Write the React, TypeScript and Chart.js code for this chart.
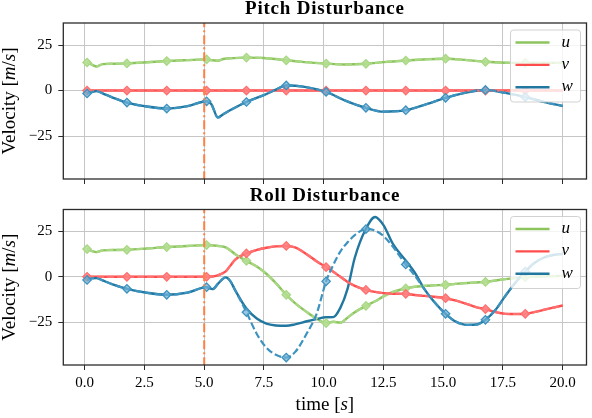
import React, { useEffect, useRef } from "react";
import { Chart, registerables } from "chart.js";

Chart.register(...registerables);

// ---------------- data ----------------
const markerTimes = [0.1, 1.767, 3.433, 5.1, 6.767, 8.433, 10.1, 11.767, 13.433, 15.1, 16.767, 18.433];
const disturbanceTime = 5.0;

const xTicks = [0, 2.5, 5, 7.5, 10, 12.5, 15, 17.5, 20];
const xTickLabels = ["0.0", "2.5", "5.0", "7.5", "10.0", "12.5", "15.0", "17.5", "20.0"];
const yTicks = [-25, 0, 25];
const yTickLabels = ["\u221225", "0", "25"];
const xMin = -0.895;
const xMax = 20.995;
const yMin = -48.6;
const yMax = 37.1;

const seriesNames = ["u", "v", "w"];

// Pitch disturbance
const pitchTime = [0.1, 0.3, 0.5, 0.75, 1.2, 1.767, 2.6, 3.433, 4.3, 5.1, 5.3, 5.57, 5.8, 6.2, 6.767, 7.5, 8.0, 8.433, 9.2, 10.1, 10.9, 11.767, 12.5, 13.433, 14.3, 15.1, 16.0, 16.767, 17.6, 18.433, 19.2, 20.0];
const pitchU = [15.4, 14.2, 13.2, 14.5, 14.7, 14.9, 15.5, 16.2, 16.7, 17.1, 16.7, 16.4, 17.3, 17.8, 18.1, 17.9, 17.3, 16.6, 15.6, 14.8, 14.3, 14.7, 15.6, 16.5, 17.2, 17.5, 16.7, 15.8, 15.3, 15.2, 15.2, 15.2];
const pitchV = [0, 0, 0, 0, 0, 0, 0, 0, 0, 0, 0, 0, 0, 0, 0, 0, 0, 0, 0, 0, 0, 0, 0, 0, 0, 0, 0, 0, 0, 0, 0, 0];
const pitchW = [-1.6, -0.8, -0.3, -1.5, -4.0, -6.6, -8.8, -9.9, -8.6, -5.9, -7.5, -14.8, -13.0, -10.0, -6.3, -2.5, 0.5, 2.8, 2.0, -0.8, -5.5, -9.5, -11.6, -10.8, -7.5, -4.0, -1.0, 0.3, -1.3, -3.6, -6.2, -8.5];
const pitchURef = [15.4, 14.2, 13.2, 14.5, 14.7, 14.9, 15.5, 16.2, 16.7, 17.1, 16.7, 16.4, 17.3, 17.8, 18.1, 17.9, 17.3, 16.6, 15.6, 14.8, 14.3, 14.7, 15.6, 16.5, 17.2, 17.5, 16.7, 15.8, 15.3, 15.2, 15.2, 15.2];
const pitchVRef = [0, 0, 0, 0, 0, 0, 0, 0, 0, 0, 0, 0, 0, 0, 0, 0, 0, 0, 0, 0, 0, 0, 0, 0, 0, 0, 0, 0, 0, 0, 0, 0];
const pitchWRef = [-1.6, -0.8, -0.3, -1.5, -4.0, -6.6, -8.8, -9.9, -8.6, -5.9, -7.5, -14.8, -13.0, -10.0, -6.3, -2.5, 0.5, 2.8, 2.0, -0.8, -5.5, -9.5, -11.6, -10.8, -7.5, -4.0, -1.0, 0.3, -1.3, -3.6, -6.2, -8.5];

// Roll disturbance
const rollTime = [0.1, 0.3, 0.5, 0.75, 1.2, 1.767, 2.6, 3.433, 4.3, 5.1, 5.35, 5.6, 5.9, 6.1, 6.3, 6.767, 7.2, 7.6, 8.0, 8.433, 8.8, 9.3, 9.7, 10.1, 10.4, 10.7, 11.0, 11.3, 11.767, 12.15, 12.5, 12.9, 13.433, 13.8, 14.2, 14.6, 15.1, 15.5, 16.0, 16.4, 16.767, 17.2, 17.6, 18.0, 18.433, 18.8, 19.2, 19.6, 20.0];
const rollU = [15.3, 14.2, 13.6, 14.6, 14.8, 14.9, 15.6, 16.4, 17.0, 17.5, 17.3, 17.0, 16.2, 14.5, 12.5, 8.8, 5.7, 1.7, -3.5, -9.9, -14.5, -19.5, -23.0, -25.5, -24.8, -25.3, -22.5, -19.5, -16.0, -13.5, -10.8, -8.3, -6.4, -5.5, -5.0, -4.7, -4.4, -3.9, -3.4, -3.1, -2.8, -2.0, -1.3, -0.7, -0.2, 0.1, 0.3, 0.4, 0.5];
const rollV = [0, 0, 0, 0, 0, 0, 0, 0, 0, 0, 0.2, 1.0, 3.0, 6.3, 9.5, 12.9, 14.8, 16.0, 16.8, 17.0, 16.2, 12.3, 8.6, 5.3, 2.8, 0.0, -2.8, -5.0, -7.2, -8.3, -9.0, -9.3, -9.4, -10.0, -10.5, -11.0, -11.8, -13.0, -15.0, -16.8, -17.8, -19.5, -20.4, -20.5, -20.4, -19.5, -18.2, -17.0, -15.8];
const rollW = [-1.7, -0.8, -0.7, -2.0, -4.3, -6.6, -8.8, -9.9, -8.7, -5.7, -6.8, -3.5, -0.3, -2.5, -7.5, -17.5, -23.0, -25.8, -26.8, -27.0, -26.2, -24.5, -23.3, -22.3, -22.2, -17.0, -6.5, 10.5, 26.5, 33.0, 28.5, 18.0, 9.0, 2.5, -6.5, -13.5, -20.4, -24.5, -26.5, -26.3, -23.7, -18.0, -10.5, -3.5, 2.9, 7.5, 10.5, 12.0, 12.7];
const rollURef = [15.3, 14.2, 13.6, 14.6, 14.8, 14.9, 15.6, 16.4, 17.0, 17.5, 17.3, 17.0, 16.2, 14.5, 12.5, 8.8, 5.7, 1.7, -3.5, -9.9, -14.5, -19.5, -23.0, -25.5, -24.8, -25.3, -22.5, -19.5, -16.0, -13.5, -10.8, -8.3, -6.4, -5.5, -5.0, -4.7, -4.4, -3.9, -3.4, -3.1, -2.8, -2.0, -1.3, -0.7, -0.2, 0.1, 0.3, 0.4, 0.5];
const rollVRef = [0, 0, 0, 0, 0, 0, 0, 0, 0, 0, 0.2, 1.0, 3.0, 6.3, 9.5, 12.9, 14.8, 16.0, 16.8, 17.0, 16.2, 12.3, 8.6, 5.3, 2.8, 0.0, -2.8, -5.0, -7.2, -8.3, -9.0, -9.3, -9.4, -10.0, -10.5, -11.0, -11.8, -13.0, -15.0, -16.8, -17.8, -19.5, -20.4, -20.5, -20.4, -19.5, -18.2, -17.0, -15.8];
const rollWRef = [-1.7, -0.8, -0.7, -2.0, -4.3, -6.6, -8.8, -9.9, -8.7, -5.7, -6.8, -3.5, -0.3, -2.5, -7.5, -19.5, -31.5, -39.0, -43.0, -44.5, -41.5, -31.0, -20.5, -2.5, 6.5, 14.0, 19.0, 23.0, 26.3, 25.5, 22.5, 16.5, 6.8, 0.8, -6.5, -13.5, -20.4, -24.5, -26.5, -26.3, -23.7, -18.0, -10.5, -3.5, 2.9, 7.5, 10.5, 12.0, 12.7];

// ---------------- styles ----------------
const SERIF = '"Liberation Serif", "Times New Roman", serif';
const solidColors = ["#8dc45e", "#ff4d4d", "#21779f"];
const refColors = ["#a9d884", "#ff6f6f", "#3d93bf"];
const refFill = ["rgba(180,222,145,0.9)", "rgba(255,130,130,0.9)", "rgba(110,175,212,0.7)"];
const distColor = "#ff7f45";
const gridColor = "#c6c6c6";
const frameColor = "#2b2b2b";

type Part = [string, boolean];

function drawRich(ctx: CanvasRenderingContext2D, parts: Part[], x: number, y: number, size: number, weight = "normal", spacing = 0) {
  ctx.save();
  (ctx as any).letterSpacing = spacing + "px";
  ctx.textAlign = "left";
  ctx.textBaseline = "alphabetic";
  ctx.fillStyle = "#000";
  let total = 0;
  const widths = parts.map(([s, it]) => {
    ctx.font = `${it ? "italic" : "normal"} ${weight} ${size}px ${SERIF}`;
    const w = ctx.measureText(s).width;
    total += w;
    return w;
  });
  let cx = x - total / 2;
  parts.forEach(([s, it], i) => {
    ctx.font = `${it ? "italic" : "normal"} ${weight} ${size}px ${SERIF}`;
    ctx.fillText(s, cx, y);
    cx += widths[i];
  });
  ctx.restore();
}

function decorPlugin(title: string, showXTitle: boolean) {
  return {
    id: "decor",
    afterDatasetsDraw(chart: any) {
      const ctx: CanvasRenderingContext2D = chart.ctx;
      const a = chart.chartArea;
      // frame
      ctx.save();
      ctx.strokeStyle = frameColor;
      ctx.lineWidth = 1.3;
      ctx.strokeRect(a.left, a.top, a.right - a.left, a.bottom - a.top);
      ctx.restore();

      // legend
      const bw = 70;
      const bh = 72;
      const bx = a.right - 6 - bw;
      const by = a.top + 7;
      ctx.save();
      ctx.beginPath();
      (ctx as any).roundRect(bx, by, bw, bh, 3);
      ctx.fillStyle = "rgba(255,255,255,0.8)";
      ctx.fill();
      ctx.strokeStyle = "rgba(204,204,204,0.9)";
      ctx.lineWidth = 1;
      ctx.stroke();
      seriesNames.forEach((name, i) => {
        const ly = by + 12.5 + i * 22.4;
        ctx.beginPath();
        ctx.moveTo(bx + 5, ly);
        ctx.lineTo(bx + 39, ly);
        ctx.strokeStyle = solidColors[i];
        ctx.lineWidth = 2.4;
        ctx.stroke();
        ctx.fillStyle = "#000";
        ctx.font = `italic 17px ${SERIF}`;
        ctx.textAlign = "left";
        ctx.textBaseline = "alphabetic";
        ctx.fillText(name, bx + 51, ly + 4);
      });
      ctx.restore();

      const cx = (a.left + a.right) / 2;
      // panel title
      drawRich(ctx, [[title, false]], cx, a.top - 9, 19, "bold", 0.8);
      // y axis title
      ctx.save();
      ctx.translate(15, (a.top + a.bottom) / 2);
      ctx.rotate(-Math.PI / 2);
      drawRich(ctx, [["Velocity [", false], ["m", true], ["/", false], ["s", true], ["]", false]], 0, 0, 19);
      ctx.restore();
      // x axis title
      if (showXTitle) {
        drawRich(ctx, [["time [", false], ["s", true], ["]", false]], cx, a.bottom + 45, 19);
      }
    },
  };
}

function buildDatasets(time: number[], vals: number[][], refs: number[][]) {
  const ds: any[] = [];
  const toPts = (arr: number[]) => time.map((t, i) => ({ x: t, y: arr[i] }));
  vals.forEach((arr, i) => {
    ds.push({
      label: seriesNames[i],
      data: toPts(arr),
      borderColor: solidColors[i],
      borderWidth: 2.4,
      pointRadius: 0,
      cubicInterpolationMode: "monotone",
      order: 10 - i,
    });
  });
  refs.forEach((arr, i) => {
    ds.push({
      label: seriesNames[i] + " ref",
      data: toPts(arr),
      borderColor: refColors[i],
      borderWidth: 2.2,
      borderDash: [7, 3],
      cubicInterpolationMode: "monotone",
      pointStyle: "rectRot",
      pointRadius: (c: any) => (c.raw && markerTimes.includes(c.raw.x) ? 4.2 : 0),
      pointBackgroundColor: refFill[i],
      pointBorderColor: refColors[i],
      pointBorderWidth: 1.3,
      order: 6 - i,
    });
  });
  ds.push({
    label: "disturbance",
    data: [
      { x: disturbanceTime, y: yMin - 10 },
      { x: disturbanceTime, y: yMax + 10 },
    ],
    borderColor: distColor,
    borderWidth: 2,
    borderDash: [9, 3, 2, 3],
    pointRadius: 0,
    clip: 0,
    order: 1,
  });
  return ds;
}

function makeConfig(title: string, time: number[], vals: number[][], refs: number[][], padTop: number, xAxisHeight: number, showXLabels: boolean): any {
  return {
    type: "line",
    data: { datasets: buildDatasets(time, vals, refs) },
    options: {
      animation: false,
      responsive: true,
      maintainAspectRatio: false,
      events: [],
      layout: { padding: { top: padTop, right: 3, left: 0, bottom: 0 } },
      plugins: { legend: { display: false }, tooltip: { enabled: false }, title: { display: false } },
      scales: {
        x: {
          type: "linear",
          min: xMin,
          max: xMax,
          afterBuildTicks: (s: any) => {
            s.ticks = xTicks.map((v) => ({ value: v }));
          },
          afterFit: (s: any) => {
            s.height = xAxisHeight;
            s.paddingLeft = 0;
            s.paddingRight = 0;
            s.paddingTop = 0;
            s.paddingBottom = 0;
          },
          border: { display: false },
          grid: { color: gridColor, lineWidth: 1, tickColor: frameColor, tickLength: 5, drawTicks: true },
          ticks: {
            display: showXLabels,
            autoSkip: false,
            maxRotation: 0,
            padding: 4,
            color: "#000",
            font: { family: SERIF, size: 15 },
            callback: (_v: any, i: number) => xTickLabels[i],
          },
        },
        y: {
          type: "linear",
          min: yMin,
          max: yMax,
          afterBuildTicks: (s: any) => {
            s.ticks = yTicks.map((v) => ({ value: v }));
          },
          afterFit: (s: any) => {
            s.width = 63.3;
            s.paddingLeft = 0;
            s.paddingRight = 0;
            s.paddingTop = 0;
            s.paddingBottom = 0;
          },
          border: { display: false },
          grid: { color: gridColor, lineWidth: 1, tickColor: frameColor, tickLength: 5, drawTicks: true },
          ticks: {
            padding: 6,
            color: "#000",
            font: { family: SERIF, size: 15 },
            callback: (_v: any, i: number) => yTickLabels[i],
          },
        },
      },
    },
    plugins: [decorPlugin(title, showXLabels)],
  };
}

export default function App() {
  const topRef = useRef<HTMLCanvasElement>(null);
  const botRef = useRef<HTMLCanvasElement>(null);

  useEffect(() => {
    const c1 = new Chart(
      topRef.current as HTMLCanvasElement,
      makeConfig("Pitch Disturbance", pitchTime, [pitchU, pitchV, pitchW], [pitchURef, pitchVRef, pitchWRef], 23, 6, false)
    );
    const c2 = new Chart(
      botRef.current as HTMLCanvasElement,
      makeConfig("Roll Disturbance", rollTime, [rollU, rollV, rollW], [rollURef, rollVRef, rollWRef], 24.5, 53, true)
    );
    return () => {
      c1.destroy();
      c2.destroy();
    };
  }, []);

  return (
    <div style={{ position: "absolute", left: 0, top: 0, width: 592, height: 418, background: "#fff" }}>
      <div style={{ position: "relative", width: 592, height: 185 }}>
        <canvas ref={topRef} style={{ display: "block" }} />
      </div>
      <div style={{ position: "relative", width: 592, height: 233 }}>
        <canvas ref={botRef} style={{ display: "block" }} />
      </div>
    </div>
  );
}
